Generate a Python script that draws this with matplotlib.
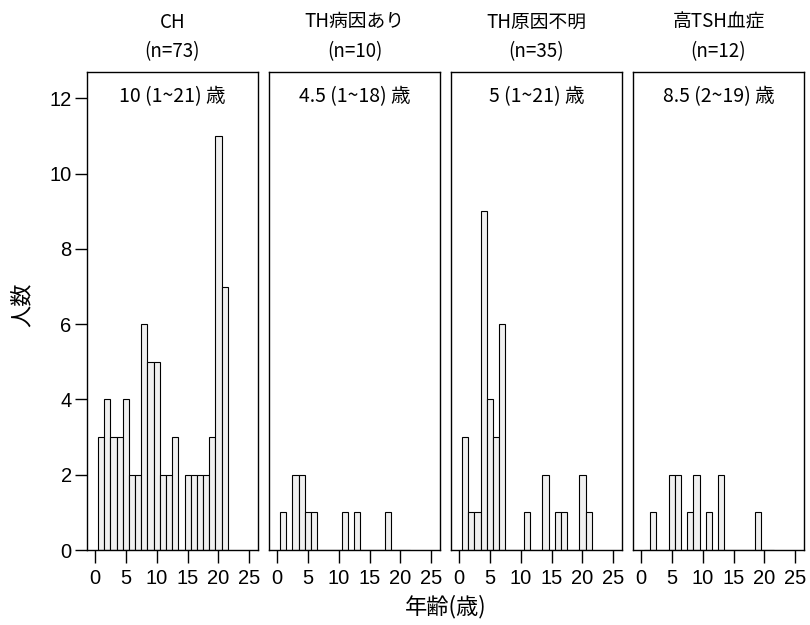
import numpy as np
import matplotlib.pyplot as plt

plt.rcParams['font.family'] = ['Noto Sans CJK JP', 'DejaVu Sans']

ages = np.arange(1, 22)
groups = ["CH", "TH病因あり", "TH原因不明", "高TSH血症"]
n_counts = [73, 10, 35, 12]
medians = ["10 (1~21) 歳", "4.5 (1~18) 歳", "5 (1~21) 歳", "8.5 (2~19) 歳"]
counts_ch = [3, 4, 3, 3, 4, 2, 2, 6, 5, 5, 2, 2, 3, 0, 2, 2, 2, 2, 3, 11, 7]
counts_th_cause = [1, 0, 2, 2, 1, 1, 0, 0, 0, 0, 1, 0, 1, 0, 0, 0, 0, 1, 0, 0, 0]
counts_th_unknown = [3, 1, 1, 9, 4, 3, 6, 0, 0, 0, 1, 0, 0, 2, 0, 1, 1, 0, 0, 2, 1]
counts_tsh = [0, 1, 0, 0, 2, 2, 0, 1, 2, 0, 1, 0, 2, 0, 0, 0, 0, 0, 1, 0, 0]
all_counts = [counts_ch, counts_th_cause, counts_th_unknown, counts_tsh]

fig = plt.figure(figsize=(8.1, 6.25), dpi=100)
W, H = 810, 625
lefts = [87, 269, 451, 633]
pw = 171
top, bottom = 72, 550
ph = bottom - top

tick_family = ['Liberation Sans', 'DejaVu Sans']
tick_size = 14.5

for i, (g, n, med, c) in enumerate(zip(groups, n_counts, medians, all_counts)):
    ax = fig.add_axes([lefts[i] / W, 1 - bottom / H, pw / W, ph / H])
    ax.bar(ages, c, width=1.0, color='#f0f0f0', edgecolor='black', linewidth=0.8)
    ax.set_xlim(-1.3, 26.4)
    ax.set_ylim(0, 12.7)
    ax.set_xticks([0, 5, 10, 15, 20, 25])
    ax.tick_params(axis='x', direction='out', length=9, width=1, pad=5)
    for lab in ax.get_xticklabels():
        lab.set_family(tick_family)
        lab.set_size(tick_size)
    if i == 0:
        ax.set_yticks(range(0, 13, 2))
        ax.tick_params(axis='y', direction='out', length=9, width=1, pad=2)
        for lab in ax.get_yticklabels():
            lab.set_family(tick_family)
            lab.set_size(tick_size)
    else:
        ax.set_yticks([])
    for s in ax.spines.values():
        s.set_linewidth(1.0)
    ax.text(0.5, 0.948, med, transform=ax.transAxes, ha='center', va='center',
            fontsize=14)
    # group name and sample size above each panel
    ax.text(0.5, 1 + 50 / ph, g, transform=ax.transAxes, ha='center',
            va='center', fontsize=13.5)
    ax.text(0.5, 1 + 20 / ph, f"(n={n})", transform=ax.transAxes, ha='center',
            va='center', fontsize=13.5)

fig.text(22 / W, 1 - 305 / H, "人数", rotation=90, ha='center', va='center',
         fontsize=16)
fig.text((87 + 804) / 2 / W, 1 - 607 / H, "年齢(歳)", ha='center', va='center',
         fontsize=16)

fig.savefig("out.png", dpi=100)
